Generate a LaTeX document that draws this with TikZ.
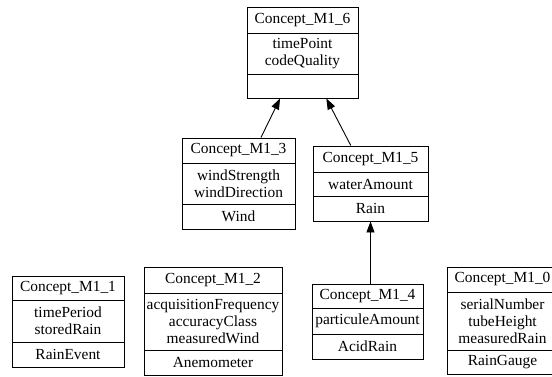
\documentclass[tikz,border=0pt]{standalone}
\usepackage{fontspec}
\setmainfont{Liberation Serif}
\usetikzlibrary{arrows.meta,fit}

% One concept box: header, attribute row, class row.
% #1 number, #2 left, #3 right, #4 top, #5 header rule, #6 attribute rule, #7 bottom,
% #8 attributes, #9 class name
\newcommand\conceptbox[9]{%
  \node[cbox, fit={(#2,#4) (#3,#7)}] (c#1) {};
  \draw[rule] (#2,#5) -- (#3,#5);
  \draw[rule] (#2,#6) -- (#3,#6);
  \node[lbl] (c#1-t) at ({(#2+#3)/2},{(#4+#5)/2}) {Concept\_M1\_#1};
  \node[lbl] (c#1-a) at ({(#2+#3)/2},{(#5+#6)/2}) {#8};
  \node[lbl] (c#1-c) at ({(#2+#3)/2},{(#6+#7)/2}) {#9};
}

\begin{document}
\begin{tikzpicture}[
  x=1bp, y=-1bp,
  cbox/.style={draw, line width=0.9bp, inner sep=0pt},
  rule/.style={line width=0.9bp},
  lbl/.style={inner sep=0pt, align=center,
    font=\fontsize{15.4bp}{17bp}\selectfont},
  edge/.style={line width=0.9bp, -{Triangle[length=11bp,width=8bp]}}
]
\useasboundingbox[fill=white] (0,0) rectangle (552,376);

\conceptbox{6}{247}{358}{7}{33}{74}{98}{timePoint\\codeQuality}{}
\conceptbox{3}{182}{295}{138}{163}{204}{229}{windStrength\\windDirection}{Wind}
\conceptbox{5}{313}{428}{146}{172}{196}{221}{waterAmount}{Rain}
\conceptbox{1}{12}{124}{276}{300}{342}{367}{timePeriod\\storedRain}{RainEvent}
\conceptbox{2}{144}{282}{267}{293}{350}{375}{acquisitionFrequency\\accuracyClass\\measuredWind}{Anemometer}
\conceptbox{4}{312}{423}{284}{308}{334}{359}{particuleAmount}{AcidRain}
\conceptbox{0}{447}{558}{267}{292}{350}{374}{serialNumber\\tubeHeight\\measuredRain}{RainGauge}

% specialisation links
\draw[edge] (c3) -- (c6);
\draw[edge] (c5) -- (c6);
\draw[edge] (c4.north -| c5.south) -- (c5.south);
\end{tikzpicture}
\end{document}
